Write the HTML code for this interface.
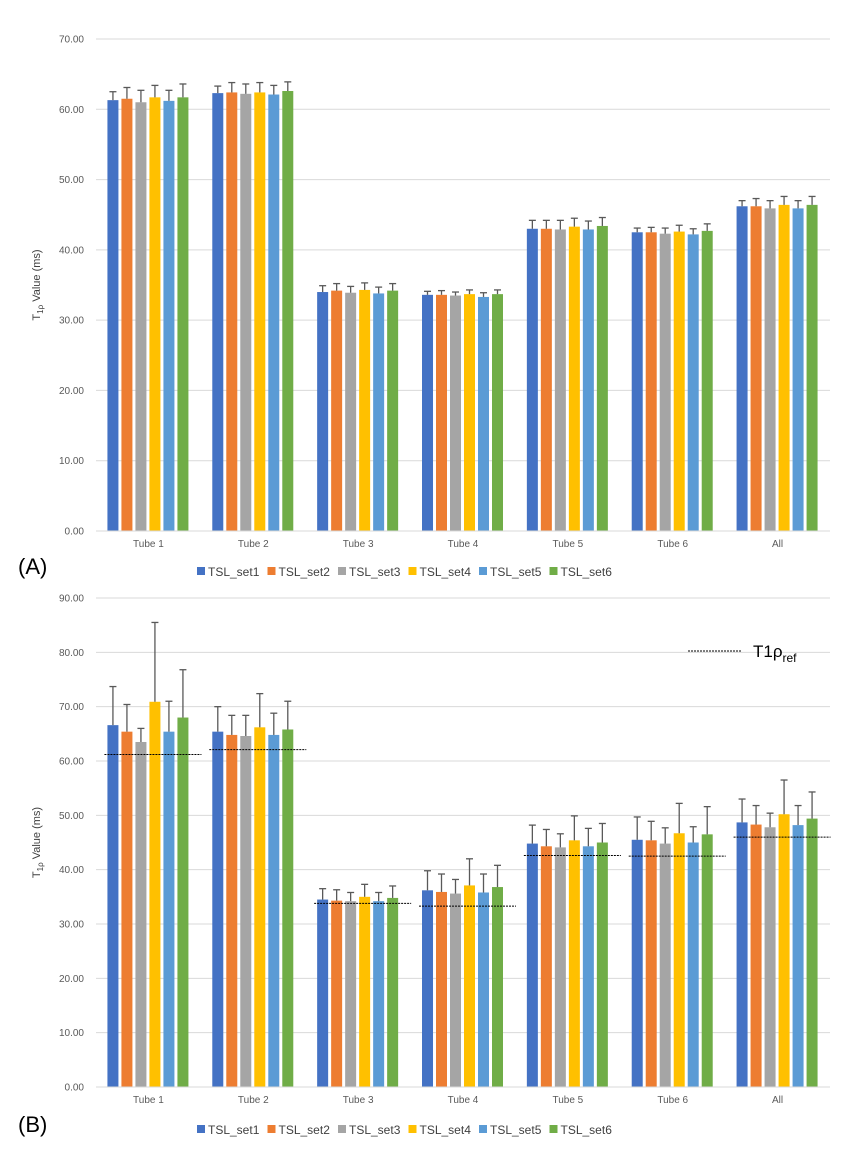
<!DOCTYPE html>
<html><head><meta charset="utf-8"><style>
body{margin:0;background:#fff;font-family:"Liberation Sans",sans-serif}
svg text{font-family:"Liberation Sans",sans-serif;fill:#595959}
</style></head><body>
<svg id="s" width="864" height="1152" xmlns="http://www.w3.org/2000/svg"></svg>
<script>
const categories=["Tube 1","Tube 2","Tube 3","Tube 4","Tube 5","Tube 6","All"];
const seriesNames=["TSL_set1","TSL_set2","TSL_set3","TSL_set4","TSL_set5","TSL_set6"];
const colors=["#4472c4","#ed7d31","#a5a5a5","#ffc000","#5b9bd5","#70ad47"];
const aVals=[[61.3,62.3,34.0,33.6,43.0,42.5,46.2],[61.5,62.4,34.2,33.6,43.0,42.5,46.2],[61.0,62.2,33.9,33.5,42.9,42.3,45.9],[61.7,62.4,34.3,33.7,43.3,42.6,46.4],[61.2,62.1,33.8,33.3,42.9,42.2,45.9],[61.7,62.6,34.2,33.7,43.4,42.7,46.4]];
const aErr=[[1.2,1.0,0.9,0.5,1.2,0.6,0.8],[1.6,1.4,1.0,0.6,1.2,0.7,1.1],[1.7,1.4,0.9,0.5,1.3,0.8,1.1],[1.7,1.4,1.0,0.6,1.2,0.9,1.2],[1.5,1.3,0.9,0.6,1.2,0.8,1.1],[1.9,1.3,1.0,0.6,1.2,1.0,1.2]];
const bVals=[[66.6,65.4,34.5,36.2,44.8,45.5,48.7],[65.4,64.8,34.3,35.9,44.3,45.4,48.3],[63.5,64.6,34.2,35.6,44.1,44.8,47.8],[70.9,66.2,35.0,37.1,45.4,46.7,50.2],[65.4,64.8,34.2,35.8,44.3,45.0,48.2],[68.0,65.8,34.8,36.8,45.0,46.5,49.4]];
const bErr=[[7.1,4.6,2.0,3.6,3.4,4.2,4.3],[5.0,3.6,2.0,3.3,3.1,3.5,3.5],[2.5,3.8,1.6,2.6,2.5,2.9,2.6],[14.6,6.2,2.3,4.9,4.5,5.5,6.3],[5.6,4.0,1.6,3.4,3.3,2.9,3.6],[8.8,5.2,2.2,4.0,3.5,5.1,4.9]];
const refVals=[61.2,62.1,33.8,33.3,42.6,42.5,46.0];
const aTicks=[0,10,20,30,40,50,60,70];
const bTicks=[0,10,20,30,40,50,60,70,80,90];

const S=document.getElementById('s');const NS="http://www.w3.org/2000/svg";
function mk(t,a,txt){const e=document.createElementNS(NS,t);for(const k in a)e.setAttribute(k,a[k]);if(txt!==undefined)e.textContent=txt;S.appendChild(e);return e;}
function chart(id,y0,yTop,max,ticks,vals,errs,refs,lab,legY){
  const X0=96,X1=830,cw=(X1-X0)/categories.length;
  const y=v=>y0-(v/max)*(y0-yTop);
  ticks.forEach(t=>{
    const g=mk('line',{x1:X0,x2:X1,y1:y(t),y2:y(t),stroke:'#d9d9d9','stroke-width':1});
    
    const tx=mk('text',{x:84,y:y(t)+3.5,'font-size':10,'text-anchor':'end'},t.toFixed(2));
    
  });
  categories.forEach((c,ci)=>{
    const cx=X0+cw*(ci+0.5);
    vals.forEach((sv,si)=>{
      const bx=cx-41+si*14,v=sv[ci],e=errs[ci]!==undefined?errs[si][ci]:0;
      const r=mk('rect',{x:bx,y:y(v),width:11,height:y0-y(v),fill:colors[si]});
      
      const top=y(v+errs[si][ci]);
      const l=mk('line',{x1:bx+5.5,x2:bx+5.5,y1:y(v),y2:top,stroke:'#595959','stroke-width':1.3});
      
      const cap=mk('line',{x1:bx+2,x2:bx+9,y1:top,y2:top,stroke:'#595959','stroke-width':1.3});
      
    });
    if(refs){
      const rl=mk('line',{x1:cx-44,x2:cx+53,y1:y(refs[ci]),y2:y(refs[ci]),stroke:'#000','stroke-width':1,'stroke-dasharray':'2,1'});
      
    }
    const ct=mk('text',{x:cx,y:y0+16,'font-size':10,'text-anchor':'middle'},c);
    
  });
  const ax=mk('line',{x1:X0,x2:X1,y1:y0,y2:y0,stroke:'#d9d9d9'});
  
  const my=(y0+yTop)/2;
  const yt=mk('text',{x:0,y:0,'font-size':11,transform:`translate(40,${my}) rotate(-90)`,'text-anchor':'middle',style:'fill:#404040'});
  yt.innerHTML='T<tspan font-size="8" dy="3">1ρ</tspan><tspan dy="-3"> Value (ms)</tspan>';
  
  const lb=mk('text',{x:18,y:legY-3,'font-size':22,style:'fill:#000'},lab);
  
  seriesNames.forEach((n,i)=>{
    const lx=197+i*70.5;
    const sq=mk('rect',{x:lx,y:legY-10,width:8,height:8,fill:colors[i]});
    
    const t=mk('text',{x:lx+11,y:legY-1,'font-size':12,style:'fill:#404040'},n);
    
  });
}
chart('chart-a',531,39,70,aTicks,aVals,aErr,null,'(A)',577);
chart('chart-b',1087,598,90,bTicks,bVals,bErr,refVals,'(B)',1135);
const rl=mk('line',{x1:688,x2:742,y1:651,y2:651,stroke:'#000','stroke-dasharray':'2,1'});

const rt=mk('text',{x:753,y:657,'font-size':17,style:'fill:#000'});
rt.innerHTML='T1ρ<tspan font-size="12" dy="5">ref</tspan>';

</script>
</body></html>
